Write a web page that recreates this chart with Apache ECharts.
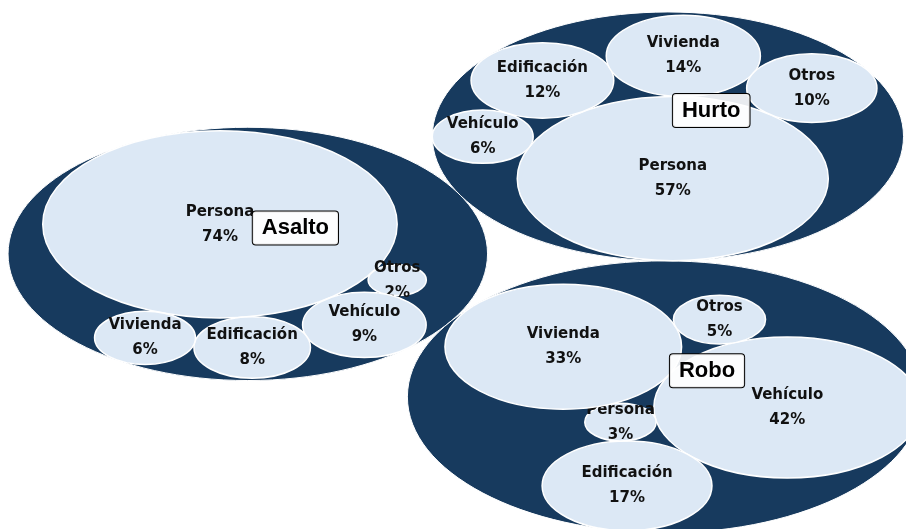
<!DOCTYPE html>
<html>
<head>
<meta charset="utf-8">
<script src="https://cdn.jsdelivr.net/npm/echarts@6/dist/echarts.min.js"></script>
<style>
html, body { margin: 0; padding: 0; background: #fff; }
#chart { width: 906px; height: 529px; }
</style>
</head>
<body>
<div id="chart"></div>
<script>
// % de cada objetivo dentro del tipo de delito (orden = orden de empaquetado)
const groupNames = ['Asalto', 'Hurto', 'Robo'];

const asaltoCats = ['Persona', 'Otros', 'Vehículo', 'Edificación', 'Vivienda'];
const asaltoPct = [74, 2, 9, 8, 6];

const hurtoCats = ['Persona', 'Vehículo', 'Edificación', 'Vivienda', 'Otros'];
const hurtoPct = [57, 6, 12, 14, 10];

const roboCats = ['Vehículo', 'Edificación', 'Persona', 'Vivienda', 'Otros'];
const roboPct = [42, 17, 3, 33, 5];

// orientation of each packing, degrees
const groupAngle = [-30.8, 157.3, -137.2];
const topAngle = 27.9;

const DARK = '#173a5e';
const LIGHT = '#dce8f5';

// ---- circle packing (front chain, each new circle next to the first one) ----
function place(a, b, c) {
    let db = a.r + c.r;
    const dx = b.x - a.x, dy = b.y - a.y;
    if (db && (dx || dy)) {
        let da = b.r + c.r;
        const dc = dx * dx + dy * dy;
        da *= da;
        db *= db;
        const x = 0.5 + (db - da) / (2 * dc);
        const y = Math.sqrt(Math.max(0, 2 * da * (db + dc) - (db - dc) * (db - dc) - da * da)) / (2 * dc);
        c.x = a.x + x * dx + y * dy;
        c.y = a.y + x * dy - y * dx;
    } else {
        c.x = a.x + db;
        c.y = a.y;
    }
}

function insert(a, b) {
    const n = a.next;
    a.next = b; b.prev = a; b.next = n; n.prev = b;
}

function overlaps(a, b) {
    const dx = b.x - a.x, dy = b.y - a.y, dr = a.r + b.r;
    return 0.999 * dr * dr > dx * dx + dy * dy;
}

function basis2(a, b) {
    const x21 = b.x - a.x, y21 = b.y - a.y, r21 = b.r - a.r;
    const l = Math.sqrt(x21 * x21 + y21 * y21);
    return { x: (a.x + b.x + x21 / l * r21) / 2, y: (a.y + b.y + y21 / l * r21) / 2, r: (l + a.r + b.r) / 2 };
}

function basis3(a, b, c) {
    const x1 = a.x, y1 = a.y, r1 = a.r, x2 = b.x, y2 = b.y, r2 = b.r, x3 = c.x, y3 = c.y, r3 = c.r;
    const a2 = x1 - x2, a3 = x1 - x3, b2 = y1 - y2, b3 = y1 - y3, c2 = r2 - r1, c3 = r3 - r1;
    const d1 = x1 * x1 + y1 * y1 - r1 * r1;
    const d2 = d1 - x2 * x2 - y2 * y2 + r2 * r2;
    const d3 = d1 - x3 * x3 - y3 * y3 + r3 * r3;
    const ab = a3 * b2 - a2 * b3;
    const xa = (b2 * d3 - b3 * d2) / (ab * 2) - x1, xb = (b3 * c2 - b2 * c3) / ab;
    const ya = (a3 * d2 - a2 * d3) / (ab * 2) - y1, yb = (a2 * c3 - a3 * c2) / ab;
    const A = xb * xb + yb * yb - 1, B = 2 * (r1 + xa * xb + ya * yb), C = xa * xa + ya * ya - r1 * r1;
    const r = -(Math.abs(A) > 1e-6 ? (B + Math.sqrt(B * B - 4 * A * C)) / (2 * A) : C / B);
    return { x: x1 + xa + xb * r, y: y1 + ya + yb * r, r: r };
}

// smallest circle around all circles
function enclose(cs) {
    let best = null;
    const tryCircle = e => {
        if (!e || !isFinite(e.r) || !isFinite(e.x) || !isFinite(e.y) || e.r <= 0) return;
        if (best && e.r >= best.r) return;
        for (const p of cs) {
            if (Math.hypot(p.x - e.x, p.y - e.y) + p.r > e.r + 1e-6) return;
        }
        best = e;
    };
    for (let i = 0; i < cs.length; i++) {
        tryCircle({ x: cs[i].x, y: cs[i].y, r: cs[i].r });
        for (let j = i + 1; j < cs.length; j++) {
            tryCircle(basis2(cs[i], cs[j]));
            for (let k = j + 1; k < cs.length; k++) tryCircle(basis3(cs[i], cs[j], cs[k]));
        }
    }
    return best;
}

function pack(nodes) {
    nodes.forEach(n => { n.next = n.prev = n; });
    let a = nodes[0], b = nodes[1], c;
    a.x = -a.r; a.y = 0;
    b.x = b.r; b.y = 0;
    if (nodes.length > 2) {
        c = nodes[2];
        place(a, b, c);
        insert(a, c);
        insert(c, b);
        b = a.next;
        for (let i = 3; i < nodes.length; i++) {
            c = nodes[i];
            place(a, b, c);
            let hit = false, s1 = 1, s2 = 1, j, k;
            for (j = b.next; j !== b; j = j.next, s1++) {
                if (overlaps(j, c)) { hit = true; break; }
            }
            if (hit) {
                for (k = a.prev; k !== j.prev; k = k.prev, s2++) {
                    if (overlaps(k, c)) break;
                }
                if (s1 < s2 || (s1 === s2 && b.r < a.r)) { b = j; } else { a = k; }
                a.next = b; b.prev = a;
                i--;
            } else {
                insert(a, c);
                b = c;
            }
        }
    }
    return enclose(nodes);
}

function rotate(x, y, deg) {
    const t = deg * Math.PI / 180, co = Math.cos(t), si = Math.sin(t);
    return [x * co - y * si, x * si + y * co];
}

// ---- layout ----
const groupCats = [asaltoCats, hurtoCats, roboCats];
const groupPct = [asaltoPct, hurtoPct, roboPct];

const groups = groupNames.map((name, g) => {
    const kids = groupPct[g].map((v, i) => ({ name: groupCats[g][i], value: v, r: Math.sqrt(v) }));
    const e = pack(kids);
    kids.forEach(k => {
        const p = rotate(k.x - e.x, k.y - e.y, groupAngle[g]);
        k.x = p[0]; k.y = p[1];
    });
    return { name: name, r: e.r, kids: kids };
});

const eTop = pack(groups);
groups.forEach(gr => {
    const p = rotate(gr.x - eTop.x, gr.y - eTop.y, topAngle);
    gr.x = p[0]; gr.y = p[1];
    gr.kids.forEach(k => { k.x += gr.x; k.y += gr.y; });
});

const items = [];
groups.forEach(gr => items.push({ kind: 'group', x: gr.x, y: gr.y, r: gr.r, name: gr.name }));
groups.forEach(gr => gr.kids.forEach(k => items.push({ kind: 'leaf', x: k.x, y: k.y, r: k.r, name: k.name, value: k.value })));
groups.forEach(gr => items.push({ kind: 'label', x: gr.x, y: gr.y, r: 0, name: gr.name }));

const leftEdge = Math.min(...groups.map(g => g.x - g.r));
const topEdge = Math.max(...groups.map(g => g.y + g.r));
const xMin = leftEdge - 0.39, xMax = xMin + 906 / 20.6;
const yMax = topEdge + 1.1, yMin = yMax - 529 / 10.88;

const chart = echarts.init(document.getElementById('chart'));

chart.setOption({
    animation: false,
    grid: { left: 0, right: 0, top: 0, bottom: 0 },
    xAxis: { type: 'value', min: xMin, max: xMax, show: false },
    yAxis: { type: 'value', min: yMin, max: yMax, show: false },
    series: [{
        type: 'custom',
        silent: true,
        clip: true,
        data: items.map(d => [d.x, d.y, d.r]),
        renderItem: function (params, api) {
            const d = items[params.dataIndex];
            const c = api.coord([d.x, d.y]);
            const rx = api.size([d.r, 0])[0];
            const ry = api.size([0, d.r])[1];
            if (d.kind === 'group') {
                return {
                    type: 'ellipse',
                    shape: { cx: c[0], cy: c[1], rx: rx, ry: ry },
                    style: { fill: DARK, stroke: '#fff', lineWidth: 1 }
                };
            }
            if (d.kind === 'leaf') {
                return {
                    type: 'group',
                    children: [{
                        type: 'ellipse',
                        shape: { cx: c[0], cy: c[1], rx: rx, ry: ry },
                        style: { fill: LIGHT, stroke: '#fff', lineWidth: 1.5 }
                    }, {
                        type: 'text',
                        x: c[0],
                        y: c[1],
                        style: {
                            text: d.name + '\n' + d.value + '%',
                            fill: '#111',
                            font: 'bold 15px "DejaVu Sans"',
                            lineHeight: 25,
                            align: 'center',
                            verticalAlign: 'middle'
                        }
                    }]
                };
            }
            // group name, boxed
            return {
                type: 'text',
                x: c[0] + 5,
                y: c[1] - 9.5,
                style: {
                    text: d.name,
                    fill: '#000',
                    font: 'bold 22px "Liberation Sans"',
                    lineHeight: 24,
                    align: 'left',
                    verticalAlign: 'bottom',
                    backgroundColor: 'rgba(255,255,255,0.9)',
                    borderColor: '#000',
                    borderWidth: 1,
                    borderRadius: 3,
                    padding: [5, 9, 4, 9]
                }
            };
        }
    }]
});
</script>
</body>
</html>
